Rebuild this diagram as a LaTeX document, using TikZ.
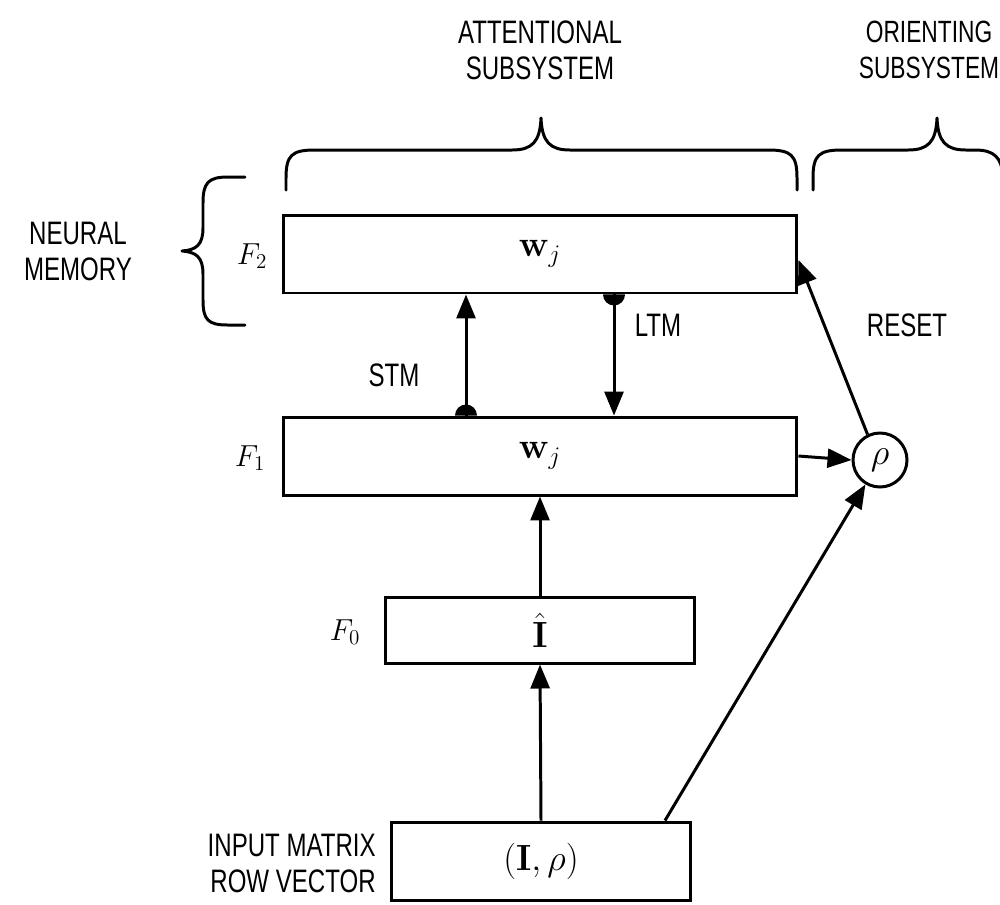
\documentclass[tikz,border=0pt]{standalone}
\usepackage[no-math]{fontspec}
\newfontfamily\labfont{Liberation Sans}[FakeStretch=0.74]
\usetikzlibrary{arrows.meta,calc}
\begin{document}
\begin{tikzpicture}[x=0.02cm,y=-0.02cm,
  box/.style={draw,line width=1.7pt,inner sep=0pt,font=\huge},
  lab/.style={font=\labfont\fontsize{18.5}{20.5}\selectfont,align=center,inner sep=0pt},
  mlab/.style={font=\LARGE,inner sep=0pt},
  arr/.style={line width=1.7pt,-{Triangle[length=0.48cm,width=0.38cm]}},
  bracestyle/.style={line width=1.7pt,line cap=round,line join=round}]
\path[use as bounding box] (0,0) rectangle (1000,904);

% boxes
\node[box,minimum width=10.28cm,minimum height=1.56cm] (F2) at (540,254) {$\mathbf{w}_j$};
\node[box,minimum width=10.28cm,minimum height=1.56cm] (F1) at (540,456) {$\mathbf{w}_j$};
\node[box,minimum width=6.2cm,minimum height=1.32cm] (F0) at (540,630) {$\hat{\mathbf{I}}$};
\node[box,minimum width=6.0cm,minimum height=1.56cm] (inp) at (541,861) {$(\mathbf{I},\rho)$};
\node[draw,circle,line width=1.7pt,minimum size=1.08cm,inner sep=0pt,font=\huge] (rho) at (880,460) {$\rho$};

% layer labels
\node[mlab] (f2l) at (252,256) {$F_2$};
\node[mlab] (f1l) at (250,458) {$F_1$};
\node[mlab] (f0l) at (345,632) {$F_0$};

% text labels
\node[lab] (att) at (540,50) {ATTENTIONAL\\SUBSYSTEM};
\node[lab,font=\labfont\fontsize{17.5}{20.5}\selectfont] (ori) at (929,50) {ORIENTING\\SUBSYSTEM};
\node[lab] (nm) at (78,251) {NEURAL\\MEMORY};
\node[lab,align=right,anchor=east] (inl) at (376,863) {INPUT MATRIX\\ROW VECTOR};
\node[lab] (stm) at (394,375) {STM};
\node[lab] (ltm) at (658,325) {LTM};
\node[lab] (rst) at (907,325) {RESET};

% helper x positions
\coordinate (xs) at (466,0);
\coordinate (xl) at (614,0);
\coordinate (xi) at (665,0);

% STM / LTM
\draw[arr] (F1.north -| xs) -- (F2.south -| xs);
\fill (F1.north -| xs) ++(-11,0) arc[start angle=180,end angle=360,radius=11] -- cycle;
\draw[arr] (F2.south -| xl) -- (F1.north -| xl);
\fill (F2.south -| xl) ++(-11,0) arc[start angle=180,end angle=0,radius=11] -- cycle;

% vertical flow
\draw[arr] (inp.north) -- (F0.south);
\draw[arr] (F0.north) -- (F1.south);

% orienting
\draw[arr] (F1.east) -- (rho.west);
\draw[arr] (inp.north -| xi) -- (rho);
\draw[arr] (rho.116) -- ($(F2.east)+(0,6)$);

% braces
\draw[bracestyle] (286,190) -- (286,178) .. controls (286,155) and (292,150) .. (315,150)
  -- (512,150) .. controls (532,150) and (540,142) .. (541,118)
  .. controls (542,142) and (550,150) .. (570,150) -- (768,150)
  .. controls (791,150) and (797,155) .. (797,178) -- (797,190);
\draw[bracestyle] (813,190) -- (813,178) .. controls (813,155) and (819,150) .. (842,150)
  -- (908,150) .. controls (928,150) and (936,142) .. (937,118)
  .. controls (938,142) and (946,150) .. (966,150) -- (975,150)
  .. controls (995,150) and (1001,158) .. (1003,175);
\draw[bracestyle] (245,177) -- (228,177) .. controls (208,177) and (203,183) .. (203,203)
  -- (203,228) .. controls (203,245) and (196,250) .. (182,251)
  .. controls (196,252) and (203,257) .. (203,274)
  -- (203,300) .. controls (203,320) and (208,325) .. (228,325) -- (245,325);
\end{tikzpicture}
\end{document}
